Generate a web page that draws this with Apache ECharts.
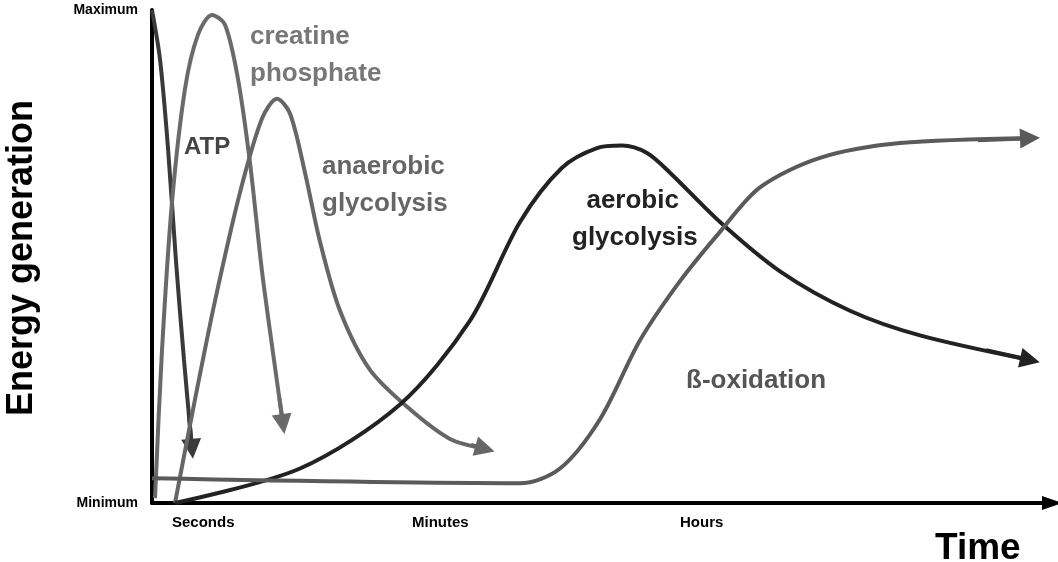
<!DOCTYPE html><html><head><meta charset="utf-8"><script src="https://cdn.jsdelivr.net/npm/echarts@6/dist/echarts.min.js"></script>
<style>body{margin:0}#c{width:1058px;height:562px}</style></head><body><div id="c"></div><script>
// x in pixel-like units from plot start, y 0..100 (Minimum..Maximum)
const atp=[[0,100],[8,90],[16,72],[24,49],[32,29],[40,11]];
const creatine=[[3,1],[10,31],[20,61],[33,84],[46,95],[60,99],[73,97],[86,86],[98,69],[110,47],[122,29],[131,16]];
const anaerobic=[[23,0],[43,21],[63,41],[88,63],[110,78],[125,82],[138,79],[153,67],[168,53],[188,39],[218,27],[258,19],[298,13],[333,11]];
const aerobic=[[23,0],[148,7],[248,20],[318,37],[368,57],[410,68],[445,72],[470,72.5],[495,71],[518,67],[568,57],[628,47],[698,39],[768,34],[878,29]];
const beta=[[0,5],[368,4],[408,7],[448,17],[488,33],[528,45],[568,55],[608,64],[668,70],[748,73],[878,74]];
const xLabels=[["Seconds",58],["Minutes",298],["Hours",566]];
const yLabels={0:"Minimum",100:"Maximum"};
const curves=[["ATP",atp,"#3a3a3a"],["creatine",creatine,"#6a6a6a"],["anaerobic",anaerobic,"#666"],["aerobic",aerobic,"#222"],["beta",beta,"#5a5a5a"]];
const series=[];
curves.forEach(([n,d,c])=>{
 series.push({type:'line',name:n,data:d,smooth:0.3,showSymbol:false,lineStyle:{color:c,width:4}});
 const a=d[d.length-2],b=d[d.length-1];
 const m=[a[0]+(b[0]-a[0])*0.6,a[1]+(b[1]-a[1])*0.6];
 series.push({type:'lines',coordinateSystem:'cartesian2d',symbol:['none','triangle'],symbolSize:[16,20],lineStyle:{color:c,width:4,opacity:1},data:[{coords:[m,b]}]});
});
const ch=echarts.init(document.getElementById('c'));
const t=(x,y,s,c,sz)=>({type:'text',left:x,top:y,style:{text:s,fill:c,font:`bold ${sz}px Liberation Sans, Arial`,lineHeight:Math.round(sz*1.42)}});
ch.setOption({animation:false,
 grid:{left:152,top:10,width:900,height:493},
 xAxis:{type:'value',min:0,max:900,axisLine:{lineStyle:{color:'#000',width:4},symbol:['none','triangle'],symbolSize:[14,20]},axisTick:{show:false},axisLabel:{show:false},splitLine:{show:false}},
 yAxis:{type:'value',min:0,max:100,interval:100,axisLine:{show:true,lineStyle:{color:'#000',width:4}},axisTick:{show:false},splitLine:{show:false},
   axisLabel:{formatter:v=>yLabels[v]||'',color:'#000',fontWeight:'bold',fontSize:14,fontFamily:'Liberation Sans',margin:14}},
 series,
 graphic:[
  ...xLabels.map(([s,x])=>t(152+x-38,512,s,'#000',15)),
  t(935,522,'Time','#000',37),
  {type:'text',x:22,y:258,rotation:Math.PI/2,style:{text:'Energy generation',fill:'#000',font:'bold 36px Liberation Sans, Arial',align:'center',verticalAlign:'middle'}},
  t(184,130,'ATP','#444',24),
  t(250,18,'creatine\nphosphate','#777',26),
  t(322,148,'anaerobic\nglycolysis','#666',26),
  t(572,182,'  aerobic\nglycolysis','#222',26),
  t(686,362,'ß-oxidation','#555',26)
 ]});
</script></body></html>
